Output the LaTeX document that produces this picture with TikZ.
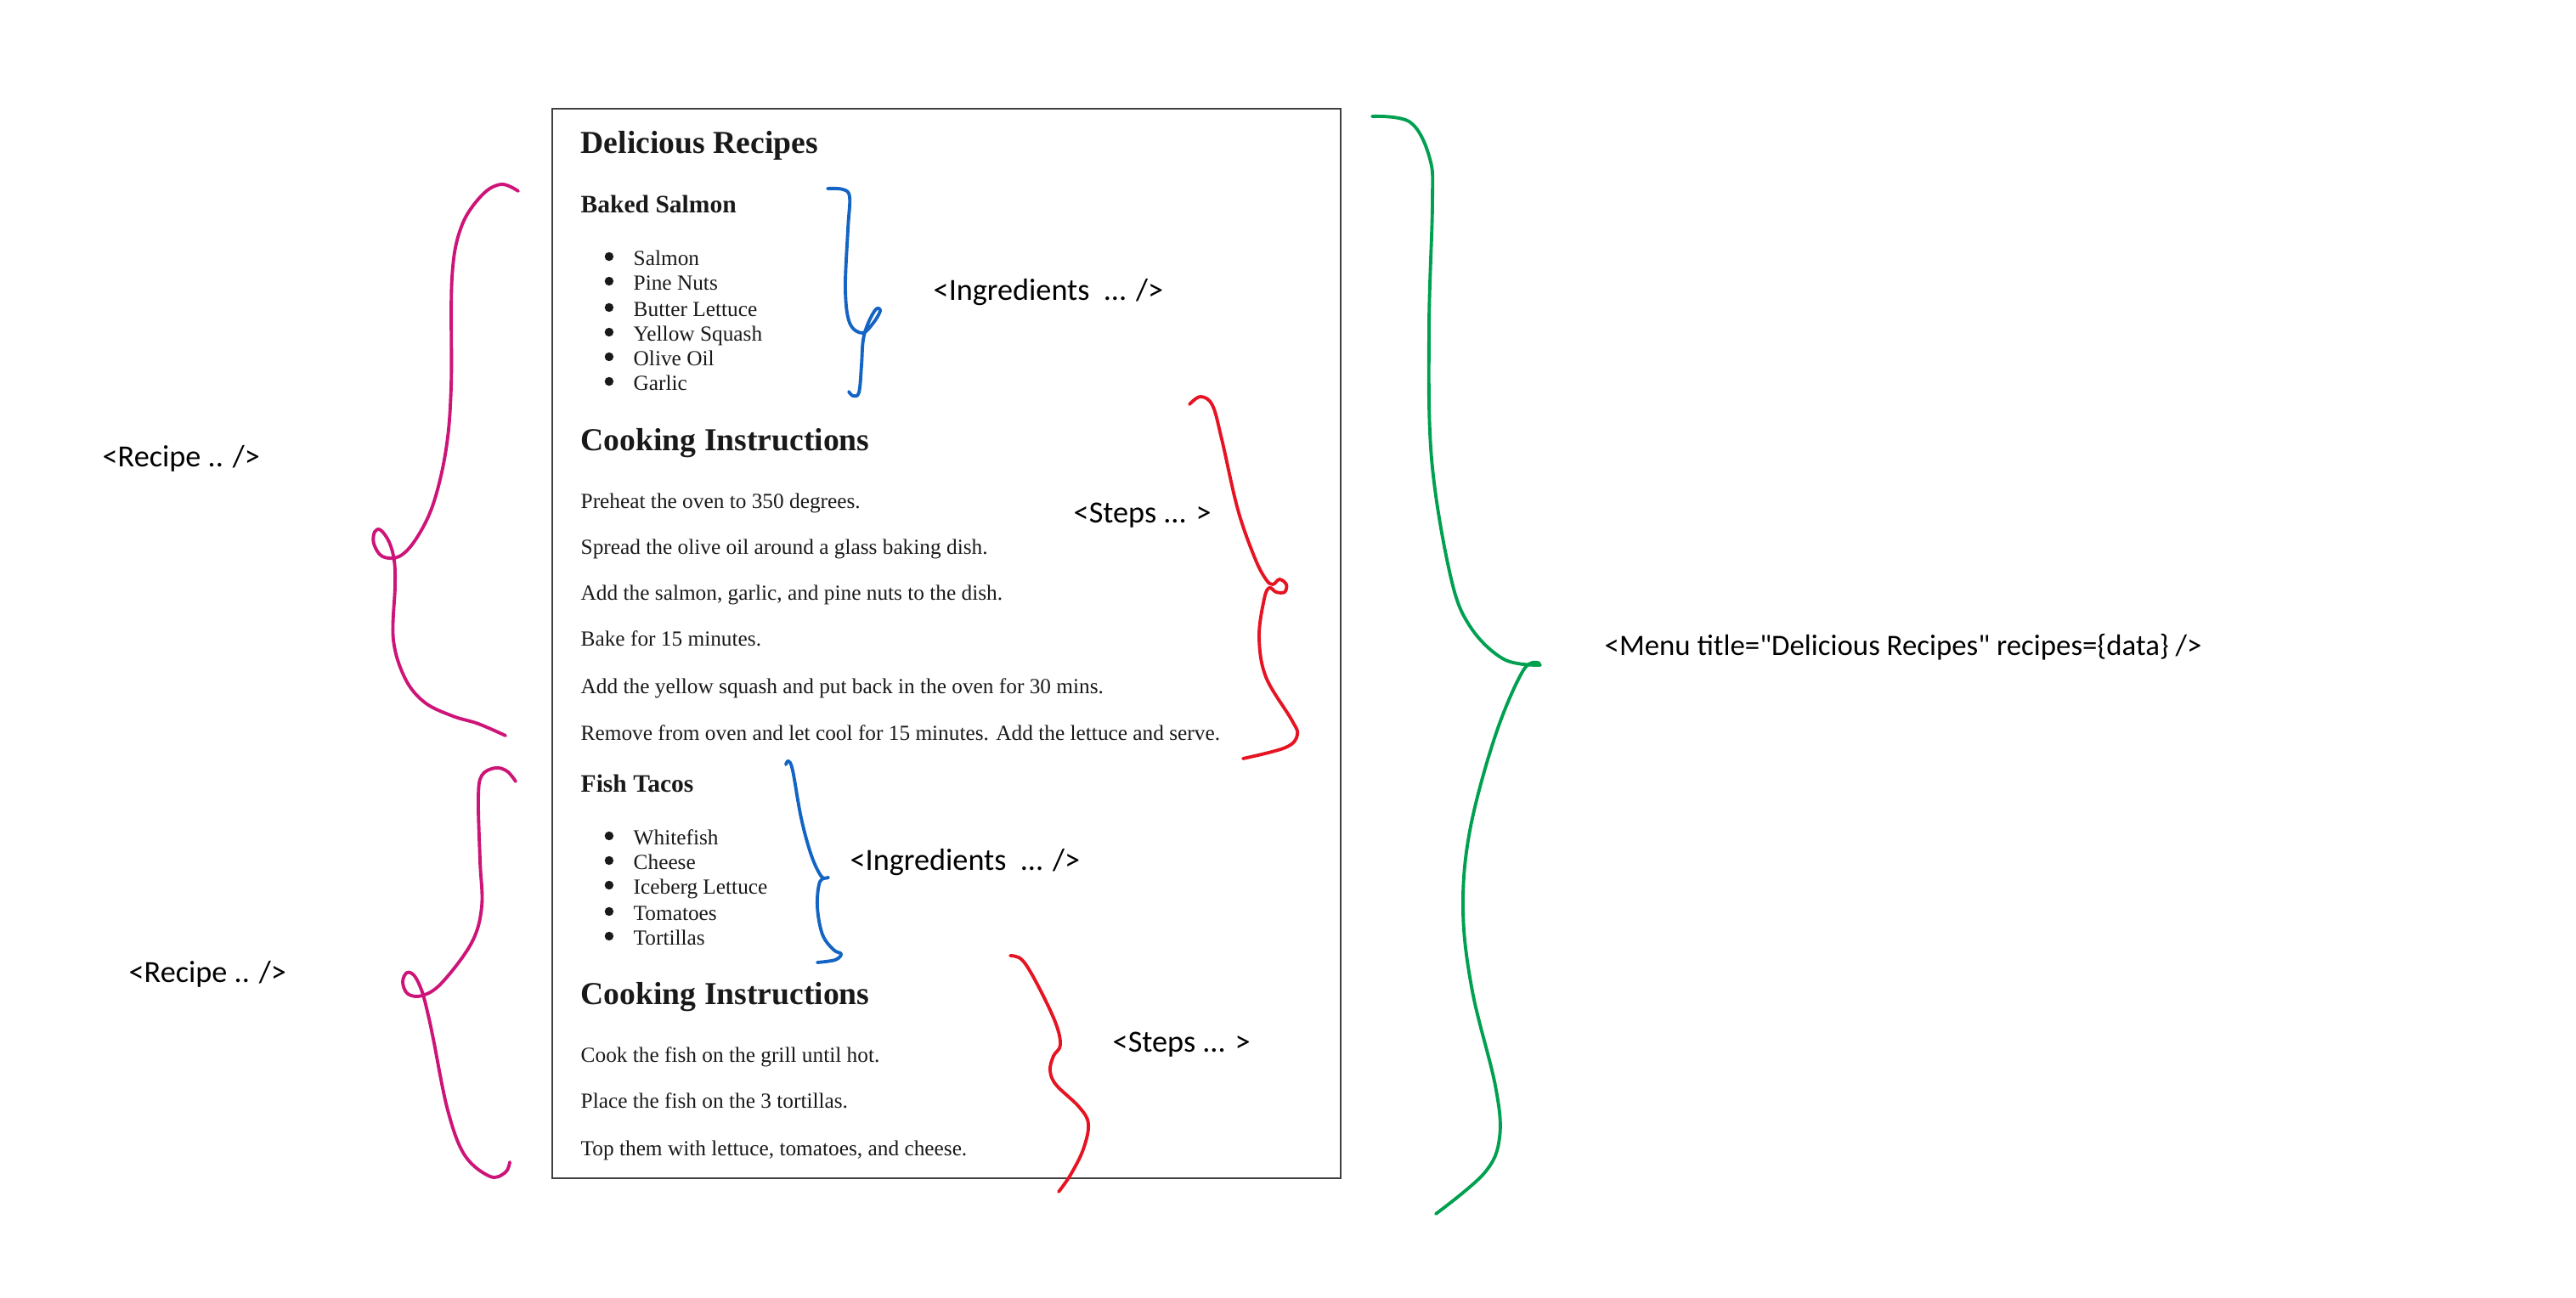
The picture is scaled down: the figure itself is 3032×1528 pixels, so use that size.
\documentclass[tikz,border=0pt]{standalone}
\usepackage{fontspec}
\setmainfont{Liberation Serif}
\newfontfamily\handfont{Carlito}
\definecolor{recipecol}{RGB}{205,20,120}
\definecolor{ingrcol}{RGB}{20,100,195}
\definecolor{stepcol}{RGB}{230,20,35}
\definecolor{menucol}{RGB}{0,160,80}
\tikzset{
  txt/.style={anchor=west, inner sep=0pt, text height=1.5ex, text depth=.25ex, text=black!90, font=\fontsize{7.2}{8.6}\selectfont},
  hbig/.style={txt, font=\bfseries\fontsize{10.7}{12}\selectfont},
  hsmall/.style={txt, font=\bfseries\fontsize{8.4}{10}\selectfont},
  item/.style={txt, label={[circle, fill=black!90, inner sep=1.05pt, label distance=6.3pt]left:{}}},
  hand/.style={anchor=west, inner sep=0pt, font=\handfont\fontsize{10.3}{12}\selectfont},
  brace/.style={line width=1.1pt, line cap=round, line join=round},
}

\begin{document}
\begin{tikzpicture}[x=0.01cm, y=-0.01cm]
  \useasboundingbox (0,0) rectangle (3032,1528);
  % box
  \draw [line width=0.8pt, black!75] (650,128) rectangle (1578,1387);
  % nodes
  \node [hbig] (0) at (683,170) {Delicious Recipes};
  %% baked salmon
  \node [hsmall] (1) at (683,240) {Baked Salmon};
  \node [item] (2) at (745,302) {Salmon};
  \node [item] (3) at (745,331) {Pine Nuts};
  \node [item] (4) at (745,362) {Butter Lettuce};
  \node [item] (5) at (745,391) {Yellow Squash};
  \node [item] (6) at (745,420) {Olive Oil};
  \node [item] (7) at (745,449) {Garlic};
  \node [hbig] (8) at (683,520) {Cooking Instructions};
  \node [txt] (9) at (683,588) {Preheat the oven to 350 degrees.};
  \node [txt] (10) at (683,642) {Spread the olive oil around a glass baking dish.};
  \node [txt] (11) at (683,696) {Add the salmon, garlic, and pine nuts to the dish.};
  \node [txt] (12) at (683,750) {Bake for 15 minutes.};
  \node [txt] (13) at (683,806) {Add the yellow squash and put back in the oven for 30 mins.};
  \node [txt] (14) at (683,861) {Remove from oven and let cool for 15 minutes. Add the lettuce and serve.};
  %% fish tacos
  \node [hsmall] (15) at (683,922) {Fish Tacos};
  \node [item] (16) at (745,984) {Whitefish};
  \node [item] (17) at (745,1013) {Cheese};
  \node [item] (18) at (745,1042) {Iceberg Lettuce};
  \node [item] (19) at (745,1073) {Tomatoes};
  \node [item] (20) at (745,1102) {Tortillas};
  \node [hbig] (21) at (683,1172) {Cooking Instructions};
  \node [txt] (22) at (683,1240) {Cook the fish on the grill until hot.};
  \node [txt] (23) at (683,1294) {Place the fish on the 3 tortillas.};
  \node [txt] (24) at (683,1350) {Top them with lettuce, tomatoes, and cheese.};
  % labels
  \node [hand] (30) at (120,540) {<Recipe .. />};
  \node [hand] (31) at (151,1147) {<Recipe .. />};
  \node [hand] (32) at (1098,344) {<Ingredients~~... />};
  \node [hand] (33) at (1000,1015) {<Ingredients~~... />};
  \node [hand] (34) at (1263,607) {<Steps ... >};
  \node [hand] (35) at (1309,1230) {<Steps ... >};
  \node [hand, font=\handfont\fontsize{9.9}{12}\selectfont] (36) at (1888,762) {<Menu title="Delicious Recipes" recipes=\{data\} />};
  % braces
  %% recipe
  \draw [brace, recipecol] plot [smooth, tension=0.6] coordinates {(610,225) (590,217) (567,230) (543,267) (532,327) (531,455) (525,529) (510,593) (490,634) (470,655) (450,655) (440,640) (441,626) (448,624) (458,638) (464,660) (465,690) (463,753) (477,799) (500,827) (533,843) (563,852) (595,866)};
  \draw [brace, recipecol] plot [smooth, tension=0.6] coordinates {(607,920) (597,908) (583,904) (567,913) (563,940) (565,1013) (567,1067) (555,1110) (520,1157) (497,1172) (480,1170) (474,1156) (479,1145) (488,1149) (497,1168) (504,1195) (510,1223) (527,1307) (547,1360) (577,1385) (595,1380) (600,1368)};
  %% ingredients
  \draw [brace, ingrcol] plot [smooth, tension=0.6] coordinates {(974,222) (992,223) (1000,232) (998,270) (995,340) (1000,380) (1015,392) (1028,380) (1036,366) (1031,364) (1022,380) (1016,400) (1014,430) (1011,462) (1004,466) (999,461)};
  \draw [brace, ingrcol] plot [smooth, tension=0.6] coordinates {(925,900) (928,896) (933,907) (943,963) (955,1007) (967,1032) (975,1033) (965,1038) (962,1067) (968,1100) (981,1118) (990,1123) (983,1130) (962,1133)};
  %% steps
  \draw [brace, stepcol] plot [smooth, tension=0.6] coordinates {(1400,476) (1413,467) (1427,477) (1438,517) (1457,600) (1477,657) (1490,682) (1498,688) (1506,682) (1514,688) (1512,697) (1502,697) (1494,692) (1488,705) (1482,750) (1490,797) (1520,847) (1527,865) (1513,880) (1463,893)};
  \draw [brace, stepcol] plot [smooth, tension=0.6] coordinates {(1189,1125) (1203,1130) (1220,1157) (1242,1203) (1248,1230) (1240,1243) (1236,1260) (1243,1277) (1270,1303) (1281,1323) (1275,1353) (1260,1383) (1246,1403)};
  %% menu
  \draw [brace, menucol] plot [smooth, tension=0.6] coordinates {(1615,137) (1660,144) (1683,187) (1686,239) (1682,385) (1685,540) (1707,677) (1730,737) (1770,776) (1813,783)};
  \draw [brace, menucol] plot [smooth, tension=0.6] coordinates {(1812,781) (1793,789) (1760,866) (1730,978) (1722,1072) (1733,1167) (1760,1278) (1765,1339) (1747,1381) (1690,1429)};
\end{tikzpicture}
\end{document}
